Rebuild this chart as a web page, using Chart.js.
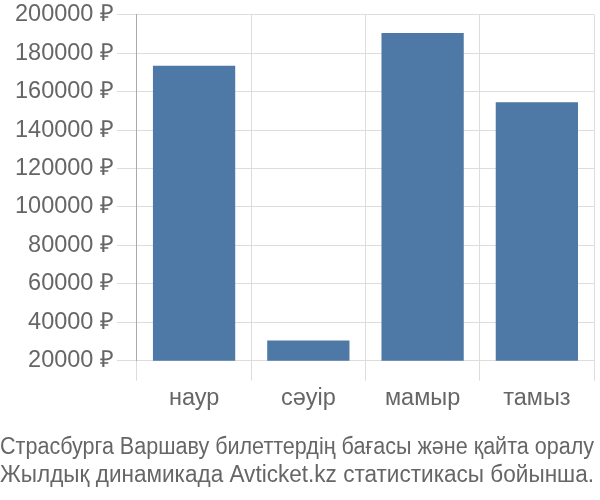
<!DOCTYPE html>
<html>
<head>
<meta charset="utf-8">
<script src="https://cdn.jsdelivr.net/npm/chart.js@4"></script>
<style>
  html, body { margin: 0; padding: 0; background: #fff; }
  #wrap { width: 600px; height: 500px; }
</style>
</head>
<body>
<div id="wrap"><canvas id="priceChart"></canvas></div>
<script>
// months and average ticket prices
const months = ['наур', 'сәуір', 'мамыр', 'тамыз'];
const prices = [173500, 30500, 190500, 154500];
const titleLines = [
    'Страсбурга Варшаву билеттердің бағасы және қайта оралу',
    'Жылдық динамикада Avticket.kz статистикасы бойынша.'
];

const textColor = '#666';
const fontFamily = '"Liberation Sans", Arial, sans-serif';

new Chart(document.getElementById('priceChart').getContext('2d'), {
    type: 'bar',
    data: {
        labels: months,
        datasets: [{
            data: prices,
            backgroundColor: '#4e79a7'
        }]
    },
    options: {
        responsive: true,
        maintainAspectRatio: false,
        animation: false,
        layout: { padding: { top: 0, right: 6, left: 0, bottom: 0 } },
        plugins: {
            legend: { display: false },
            tooltip: { enabled: false },
            title: {
                display: true,
                position: 'bottom',
                text: titleLines,
                color: textColor,
                // wider than the canvas on purpose, chart.js squeezes each line to fit
                font: { family: fontFamily, size: 23, weight: 'normal', lineHeight: 1.22 },
                padding: { top: 17, bottom: 10 }
            }
        },
        scales: {
            x: {
                grid: { color: '#ddd', tickLength: 20, offset: true },
                border: { color: '#ddd' },
                ticks: { color: textColor, font: { family: fontFamily, size: 23.5 }, padding: 4 }
            },
            y: {
                min: 20000,
                max: 200000,
                grid: { color: '#ddd', tickLength: 20 },
                border: { color: '#aaa' },
                ticks: {
                    stepSize: 20000,
                    color: textColor,
                    padding: 3,
                    font: { family: fontFamily, size: 23.5, lineHeight: 1.0 },
                    callback: v => v + ' ₽'
                },
                afterFit: axis => { axis.width += 12; }
            }
        }
    }
});
</script>
</body>
</html>
